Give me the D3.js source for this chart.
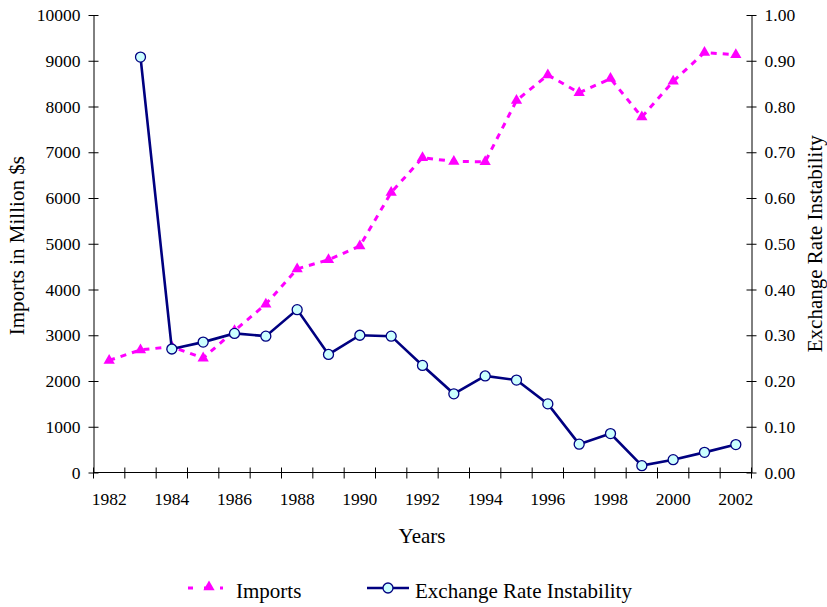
<!DOCTYPE html>
<html>
<head>
<meta charset="utf-8">
<script src="https://cdn.jsdelivr.net/npm/d3@7"></script>
<style>
  body { margin: 0; background: #fff; }
  svg { display: block; }
  text { font-family: "Liberation Serif", "Times New Roman", serif; fill: #000; }
</style>
</head>
<body>
<svg id="chart" width="827" height="607" font-family="Liberation Serif, serif"></svg>
<script>
const years = [1982,1983,1984,1985,1986,1987,1988,1989,1990,1991,1992,1993,1994,1995,1996,1997,1998,1999,2000,2001,2002];
const imports = [2450,2680,2750,2500,3100,3680,4450,4650,4950,6120,6880,6800,6790,8130,8690,8300,8610,7770,8550,9180,9130];
const instability = [null,0.908,0.270,0.285,0.304,0.298,0.356,0.258,0.300,0.298,0.234,0.172,0.211,0.202,0.150,0.062,0.085,0.015,0.028,0.044,0.061];
const yearLabels = [1982,1984,1986,1988,1990,1992,1994,1996,1998,2000,2002];
const leftTicks = [0,1000,2000,3000,4000,5000,6000,7000,8000,9000,10000];
const rightTicks = [0,0.1,0.2,0.3,0.4,0.5,0.6,0.7,0.8,0.9,1.0];
const seriesNames = ["Imports", "Exchange Rate Instability"];

const svg = d3.select("#chart");
const L = 93.5, R = 751.5, T = 15, B = 472.5;
const magenta = "#FF00FF", navy = "#000080", cyan = "#CCFFFF";
const fs = 17.5;
const serif = "Liberation Serif";

const x = d3.scaleBand().domain(years).range([L, R]).padding(0);
const yL = d3.scaleLinear().domain([0, 10000]).range([B, T]);
const yR = d3.scaleLinear().domain([0, 1]).range([B, T]);
const cx = d => x(d) + x.bandwidth() / 2;

// Left axis
const gL = svg.append("g").attr("transform", `translate(${L},0)`)
  .call(d3.axisLeft(yL).tickValues(leftTicks).tickSizeInner(5).tickSizeOuter(0).tickPadding(8).tickFormat(d3.format("d")));
gL.selectAll(".tick line").attr("x2", 5).attr("x1", -5);
// Right axis
const gR = svg.append("g").attr("transform", `translate(${R},0)`)
  .call(d3.axisRight(yR).tickValues(rightTicks).tickSizeInner(5).tickSizeOuter(0).tickPadding(8).tickFormat(d3.format(".2f")));
gR.selectAll(".tick line").attr("x1", -5).attr("x2", 5);
// Bottom axis: labels centered in bands
const gB = svg.append("g").attr("transform", `translate(0,${B})`)
  .call(d3.axisBottom(x).tickValues(yearLabels).tickSize(0).tickPadding(20));
gB.select(".domain").remove();
svg.append("line").attr("x1", L).attr("x2", R).attr("y1", B).attr("y2", B).attr("stroke", "#000");
// boundary ticks
const bounds = years.map(d => x(d)).concat([R]);
svg.append("g").selectAll("line").data(bounds).join("line")
  .attr("x1", d => d).attr("x2", d => d).attr("y1", B - 5).attr("y2", B + 6).attr("stroke", "#000");

[gL, gR, gB].forEach(g => {
  g.attr("font-family", serif).attr("font-size", fs);
  g.selectAll("text").attr("font-family", serif).attr("font-size", fs).attr("fill", "#000");
  g.selectAll(".domain").attr("stroke", "#000");
  g.selectAll(".tick line").attr("stroke", "#000");
});

// Axis titles
svg.append("text").attr("transform", `translate(24,${(T + B) / 2 + 2}) rotate(-90)`)
  .attr("text-anchor", "middle").attr("font-family", serif).attr("font-size", 21).text("Imports in Million $s");
svg.append("text").attr("transform", `translate(822,${(T + B) / 2}) rotate(-90)`)
  .attr("text-anchor", "middle").attr("font-family", serif).attr("font-size", 21).text("Exchange Rate Instability");
svg.append("text").attr("x", 422).attr("y", 543).attr("text-anchor", "middle")
  .attr("font-family", serif).attr("font-size", 21).text("Years");

// Imports line
const lineI = d3.line().x((d, i) => cx(years[i])).y(d => yL(d));
svg.append("path").datum(imports).attr("d", lineI).attr("fill", "none")
  .attr("stroke", magenta).attr("stroke-width", 3).attr("stroke-dasharray", "6,6");
const tri = d3.symbol().type(d3.symbolTriangle).size(55);
svg.append("g").selectAll("path").data(imports).join("path")
  .attr("d", tri).attr("transform", (d, i) => `translate(${cx(years[i])},${yL(d)})`)
  .attr("fill", magenta);

// Instability line
const instData = instability.map((v, i) => ({ year: years[i], v })).filter(d => d.v !== null);
const lineE = d3.line().x(d => cx(d.year)).y(d => yR(d.v));
svg.append("path").datum(instData).attr("d", lineE).attr("fill", "none")
  .attr("stroke", navy).attr("stroke-width", 2.6);
svg.append("g").selectAll("circle").data(instData).join("circle")
  .attr("cx", d => cx(d.year)).attr("cy", d => yR(d.v)).attr("r", 5)
  .attr("fill", cyan).attr("stroke", navy).attr("stroke-width", 1.3);

// Legend
const ly = 591;
svg.append("line").attr("x1", 188).attr("x2", 223).attr("y1", ly - 3).attr("y2", ly - 3)
  .attr("stroke", magenta).attr("stroke-width", 3).attr("stroke-dasharray", "5,11");
svg.append("path").attr("d", tri).attr("transform", `translate(209,${ly - 4})`).attr("fill", magenta);
svg.append("text").attr("x", 236).attr("y", ly + 7).attr("font-family", serif).attr("font-size", 21).text(seriesNames[0]);
svg.append("line").attr("x1", 367).attr("x2", 409).attr("y1", ly - 3).attr("y2", ly - 3)
  .attr("stroke", navy).attr("stroke-width", 2.6);
svg.append("circle").attr("cx", 388).attr("cy", ly - 3).attr("r", 5)
  .attr("fill", cyan).attr("stroke", navy).attr("stroke-width", 1.3);
svg.append("text").attr("x", 415).attr("y", ly + 7).attr("font-family", serif).attr("font-size", 21).text(seriesNames[1]);
</script>
</body>
</html>
